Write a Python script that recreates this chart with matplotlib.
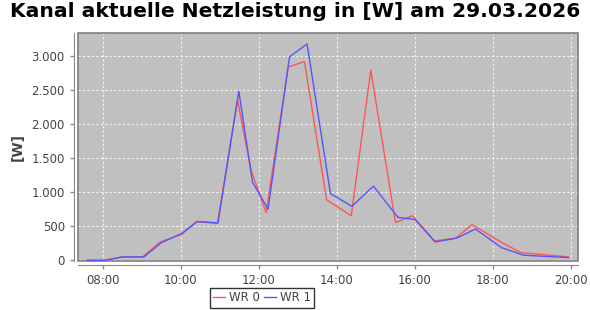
import matplotlib
matplotlib.use("Agg")
import matplotlib.pyplot as plt
from matplotlib.patches import Rectangle
from matplotlib.ticker import FuncFormatter, MultipleLocator

# Zeitpunkte und Leistung pro Wechselrichter
wr0_zeit = ["07:36", "08:02", "08:29", "09:01", "09:28", "10:01", "10:24", "10:56",
            "11:27", "11:48", "12:11", "12:45", "13:10", "13:44", "14:22", "14:52",
            "15:30", "15:56", "16:30", "17:02", "17:28", "18:10", "18:43", "19:56"]
wr0_watt = [0, 0, 50, 50, 270, 380, 570, 540, 2350, 1320, 700, 2840, 2920, 890, 655,
            2795, 555, 655, 285, 325, 525, 280, 113, 50]

wr1_zeit = ["07:36", "08:03", "08:31", "09:03", "09:30", "10:02", "10:25", "10:57",
            "11:29", "11:50", "12:14", "12:47", "13:14", "13:50", "14:23", "14:56",
            "15:34", "16:00", "16:31", "17:04", "17:33", "18:13", "18:47", "19:56"]
wr1_watt = [0, 0, 50, 50, 260, 400, 570, 550, 2485, 1150, 750, 2990, 3180, 980, 795,
            1090, 630, 600, 270, 325, 460, 187, 75, 40]

titel = "Kanal aktuelle Netzleistung in [W] am 29.03.2026"


def in_stunden(zeiten):
    res = []
    for z in zeiten:
        h, m = z.split(":")
        res.append(int(h) + int(m) / 60)
    return res


fig = plt.figure(figsize=(5.9, 3.1), dpi=100)
ax = fig.add_axes([78 / 590, 1 - 261 / 310, 500 / 590, 228 / 310])
ax.set_facecolor("#c0c0c0")

ax.plot(in_stunden(wr0_zeit), wr0_watt, color="#ff5555", lw=1.0, label="WR 0", zorder=3)
ax.plot(in_stunden(wr1_zeit), wr1_watt, color="#5555ff", lw=1.0, label="WR 1", zorder=3)

ax.set_xlim(7.36, 20.18)
ax.set_ylim(-10, 3340)
ax.xaxis.set_major_locator(MultipleLocator(2))
ax.yaxis.set_major_locator(MultipleLocator(500))
ax.xaxis.set_major_formatter(FuncFormatter(lambda v, p: "%02d:00" % int(round(v))))
ax.yaxis.set_major_formatter(FuncFormatter(lambda v, p: f"{int(v):,}".replace(",", ".")))

ax.grid(True, color="white", lw=0.8, linestyle=(0, (2, 2)), alpha=0.85)
ax.set_axisbelow(True)

# Achsen etwas nach aussen versetzt, Rahmen um den Plotbereich
for s in ["top", "right"]:
    ax.spines[s].set_visible(False)
for s in ["left", "bottom"]:
    ax.spines[s].set_position(("outward", 3))
    ax.spines[s].set_color("#888888")
ax.add_patch(Rectangle((0, 0), 1, 1, transform=ax.transAxes, fill=False,
                       edgecolor="#808080", lw=1.2, clip_on=False, zorder=2))

ax.tick_params(colors="#888888", labelcolor="#444444", labelsize=8.5, length=3, width=1)
ax.set_ylabel("[W]", fontsize=10, fontweight="bold", color="#444444", labelpad=5)

fig.suptitle(titel, x=0.5, y=0.995, fontsize=14.6, fontweight="bold", va="top")

leg = fig.legend(loc="center", bbox_to_anchor=(0.444, 0.04), ncol=2, fontsize=8.5,
                 frameon=True, fancybox=False, handlelength=1.0, handletextpad=0.3,
                 columnspacing=0.4, borderpad=0.3, borderaxespad=0)
leg.get_frame().set_edgecolor("black")
leg.get_frame().set_linewidth(1.0)
for t in leg.get_texts():
    t.set_color("#444444")

fig.savefig("out.png", dpi=100)
